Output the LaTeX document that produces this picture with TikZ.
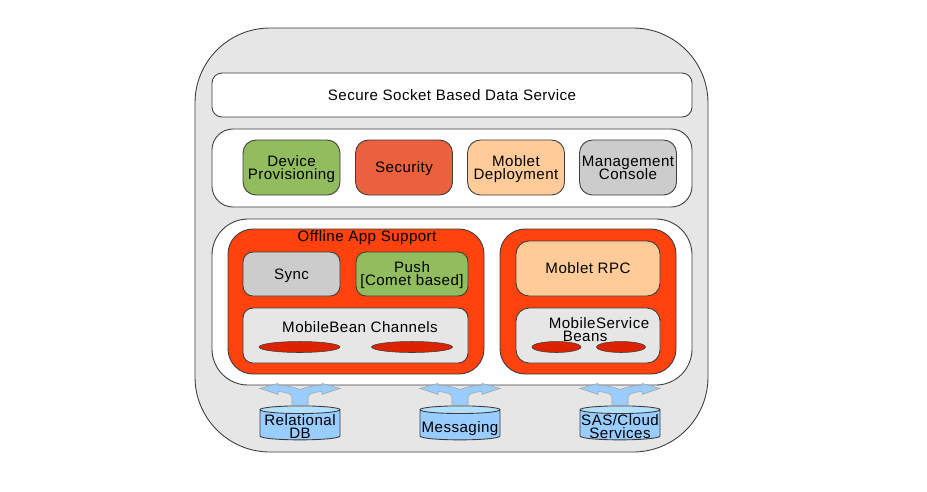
\documentclass[tikz,border=0pt]{standalone}
\usepackage{fontspec}
\setmainfont[LetterSpace=3]{Liberation Sans}
\usetikzlibrary{shapes.geometric}
\definecolor{svgray}{HTML}{E6E6E6}
\definecolor{svline}{HTML}{3C3C3C}
\definecolor{svgreen}{HTML}{92BD5E}
\definecolor{svtomato}{HTML}{EB613D}
\definecolor{svpeach}{HTML}{FFCC99}
\definecolor{svsilver}{HTML}{CCCCCC}
\definecolor{svorange}{HTML}{FF420E}
\definecolor{svred}{HTML}{DC2300}
\definecolor{svblue}{HTML}{99CCFF}
\definecolor{svsky}{HTML}{B3E0FF}
\tikzset{
  boxfont/.style={font={\fontsize{8.6}{7.4}\selectfont\lineskiplimit -5pt\relax}},
  panel/.style={draw=svline, line width=0.5pt, inner sep=0pt, align=center, text depth=0pt, boxfont},
  tile/.style={panel, minimum width=1.94cm, minimum height=1.1cm, rounded corners=0.26cm},
  lozenge/.style={ellipse, draw=svline, line width=0.3pt, fill=svred, inner sep=0pt, minimum height=0.22cm},
  store/.style={cylinder, shape border rotate=90, shape aspect=0.1, draw=svline, line width=0.5pt,
    cylinder uses custom fill, cylinder body fill=svblue, cylinder end fill=svsky, inner sep=0pt,
    minimum width=1.6cm, minimum height=0.68cm, boxfont},
  storetxt/.style={inner sep=0pt, align=center, text depth=0pt, boxfont},
  splitarrow/.pic={
    \draw[svgray!60!svline, line width=0.3pt, fill=svblue]
      (-8,0) -- (-8,-8) .. controls (-8,-12) and (-14,-13) .. (-22,-14) -- (-22,-11) -- (-40,-17) -- (-22,-22) -- (-22,-20)
      .. controls (-12,-20) and (-6,-18) .. (0,-16) .. controls (6,-18) and (12,-20) .. (22,-20)
      -- (22,-22) -- (40,-17) -- (22,-11) -- (22,-14) .. controls (14,-13) and (8,-12) .. (8,-8) -- (8,0) -- cycle;
  }
}
\begin{document}
\begin{tikzpicture}[x=0.2mm, y=-0.2mm]
  \useasboundingbox (0,0) rectangle (927,491);
  \node[panel, fill=svgray, minimum width=10.26cm, minimum height=8.48cm, rounded corners=1.5cm] (shell) at (451.5,240) {};
  \node[panel, fill=white, minimum width=9.6cm, minimum height=0.88cm, rounded corners=0.2cm] (socket) at (452,95) {Secure Socket Based Data Service};
  \node[panel, fill=white, minimum width=9.6cm, minimum height=1.56cm, rounded corners=0.42cm] (toprow) at (452,168) {};
  \node[panel, fill=white, minimum width=9.6cm, minimum height=3.32cm, rounded corners=0.72cm] (lowrow) at (452,302) {};
  \node[tile, fill=svgreen] (devprov) at (291.5,167.5) {Device\\Provisioning};
  \node[tile, fill=svtomato] (security) at (404,167.5) {Security};
  \node[tile, fill=svpeach] (deploy) at (516,167.5) {Moblet\\Deployment};
  \node[tile, fill=svsilver] (console) at (628,167.5) {Management\\Console};
  \node[panel, fill=svorange, minimum width=5.12cm, minimum height=2.9cm, rounded corners=0.5cm] (offline) at (356,301.5) {};
  \node[panel, fill=svorange, minimum width=3.52cm, minimum height=2.9cm, rounded corners=0.5cm] (rpcbox) at (588,301.5) {};
  \node[boxfont, inner sep=0pt] (offlinetxt) at (367,238) {Offline App Support};
  \node[tile, fill=svsilver, minimum height=0.88cm, rounded corners=0.2cm] (sync) at (291.5,274) {Sync};
  \node[tile, fill=svgreen, minimum width=2.24cm, minimum height=0.88cm, rounded corners=0.2cm] (push) at (412,274) {Push\\{}[Comet based]};
  \node[tile, fill=svgray, minimum width=4.5cm, rounded corners=0.2cm] (channels) at (355.5,335.5) {};
  \node[boxfont, inner sep=0pt] (channelstxt) at (360,327) {MobileBean Channels};
  \node[lozenge, minimum width=1.62cm] (chana) at (299.5,347) {};
  \node[lozenge, minimum width=1.62cm] (chanb) at (412,347) {};
  \node[tile, fill=svpeach, minimum width=2.88cm, rounded corners=0.26cm] (rpc) at (588,268.5) {Moblet RPC};
  \node[tile, fill=svgray, minimum width=2.88cm, rounded corners=0.26cm] (beans) at (588,335.5) {};
  \node[boxfont, inner sep=0pt, align=left] (beanstxt) at (599,329.5) {MobileService\\\hspace*{0.28cm}Beans};
  \node[lozenge, minimum width=0.98cm] (beana) at (556.5,347) {};
  \node[lozenge, minimum width=0.98cm] (beanb) at (621,347) {};
  \node[store] (reldb) at (300,425) {\phantom{Messaging}};
  \node[store] (msg) at (460,425) {\phantom{Messaging}};
  \node[store] (cloud) at (620,425) {\phantom{Messaging}};
  \node[storetxt] (reldbtxt) at (300,427) {Relational\\DB};
  \node[storetxt] (msgtxt) at (460,427) {Messaging};
  \node[storetxt] (cloudtxt) at (620,427) {SAS/Cloud\\Services};
  \foreach \n in {reldb, msg, cloud}
    \pic at (\n.north) {splitarrow};
\end{tikzpicture}
\end{document}
